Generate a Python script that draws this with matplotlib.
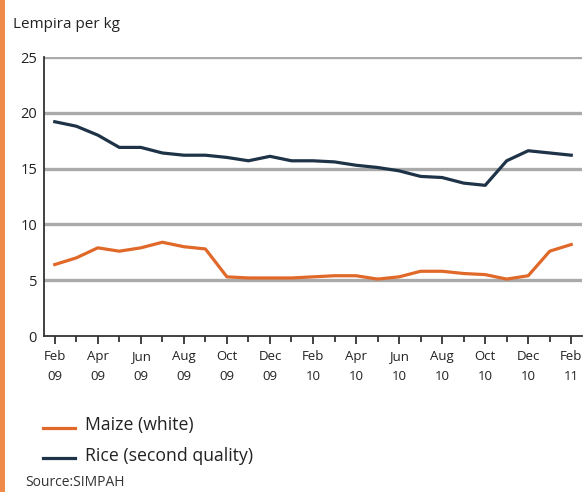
import matplotlib
matplotlib.use("Agg")
import matplotlib.pyplot as plt
from matplotlib.patches import Rectangle
from matplotlib.lines import Line2D

months = ["Feb", "Mar", "Apr", "May", "Jun", "Jul", "Aug", "Sep", "Oct", "Nov", "Dec", "Jan",
          "Feb", "Mar", "Apr", "May", "Jun", "Jul", "Aug", "Sep", "Oct", "Nov", "Dec", "Jan", "Feb"]
years = ["09"] * 11 + ["10"] * 12 + ["11"] * 2
rice = [19.2, 18.8, 18.0, 16.9, 16.9, 16.4, 16.2, 16.2, 16.0, 15.7, 16.1, 15.7,
        15.7, 15.6, 15.3, 15.1, 14.8, 14.3, 14.2, 13.7, 13.5, 15.7, 16.6, 16.4, 16.2]
maize = [6.4, 7.0, 7.9, 7.6, 7.9, 8.4, 8.0, 7.8, 5.3, 5.2, 5.2, 5.2,
         5.3, 5.4, 5.4, 5.1, 5.3, 5.8, 5.8, 5.6, 5.5, 5.1, 5.4, 7.6, 8.2]
yticks = [0, 5, 10, 15, 20, 25]

plt.rcParams['font.family'] = ['Open Sans', 'DejaVu Sans']
W, H = 587, 492
fig = plt.figure(figsize=(W / 100, H / 100), dpi=100)
ax = fig.add_axes([44 / W, (H - 336) / H, (582 - 44) / W, (336 - 57) / H])

orange = '#e0692a'
navy = '#1e3347'
x = list(range(len(months)))
for yv in yticks[1:]:
    ax.axhline(yv, color='#aaaaaa', lw=2.4, zorder=1)
ax.plot(x, maize, color=orange, lw=2.3, zorder=3)
ax.plot(x, rice, color=navy, lw=2.3, zorder=3)

ax.set_xlim(-0.5, 24.5)
ax.set_ylim(0, 25)
for s in ['top', 'right']:
    ax.spines[s].set_visible(False)
for s in ['left', 'bottom']:
    ax.spines[s].set_linewidth(1.3)
    ax.spines[s].set_color('#333333')

ax.set_yticks(yticks)
ax.set_yticklabels([str(v) for v in yticks], fontsize=10.5, color='#222222')
ax.tick_params(axis='y', length=0, pad=5)

major = x[::2]
ax.set_xticks(major)
ax.set_xticklabels([f"{months[i]}\n{years[i]}" for i in major], fontsize=9.5, color='#222222',
                   linespacing=1.75)
ax.set_xticks(x[1::2], minor=True)
ax.tick_params(axis='x', which='major', length=6, width=1.3, color='#333333', pad=4)
ax.tick_params(axis='x', which='minor', length=4, width=1.3, color='#333333')

fig.text(13 / W, 1 - 24 / H, "Lempira per kg", fontsize=11, va='center', ha='left', color='#222222')

# legend
fig.add_artist(Line2D([43 / W, 75 / W], [1 - 428 / H, 1 - 428 / H], color=orange, lw=2.3))
fig.add_artist(Line2D([43 / W, 75 / W], [1 - 458 / H, 1 - 458 / H], color=navy, lw=2.3))
fig.text(85 / W, 1 - 425 / H, "Maize (white)", fontsize=12.7, va='center', ha='left', color='#222222')
fig.text(85 / W, 1 - 456 / H, "Rice (second quality)", fontsize=12.7, va='center', ha='left', color='#222222')
fig.text(25 / W, 2 / H, "Source:SIMPAH", fontsize=10, va='bottom', ha='left', color='#333333')

# left orange bar
fig.add_artist(Rectangle((0, 0), 5 / W, 1, transform=fig.transFigure, color='#ef8a4a', lw=0))

fig.savefig("out.png", dpi=100)
